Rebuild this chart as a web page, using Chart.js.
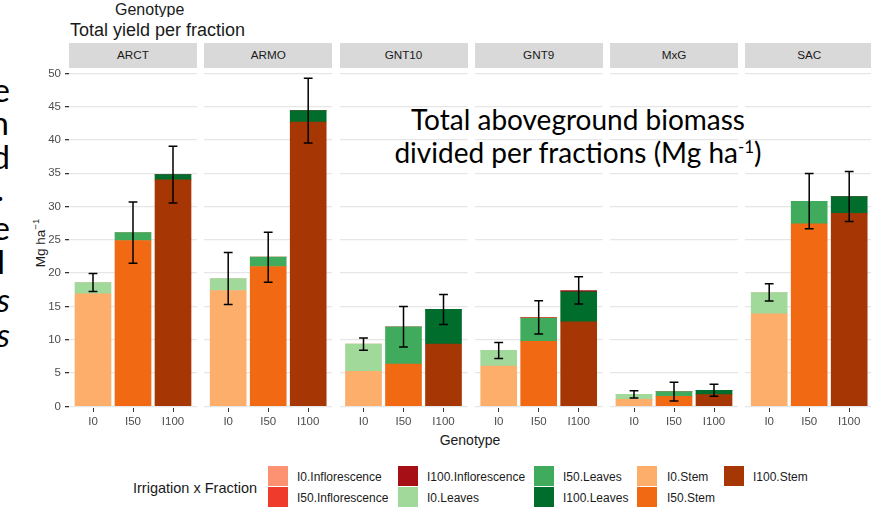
<!DOCTYPE html>
<html>
<head>
<meta charset="utf-8">
<script src="https://cdn.jsdelivr.net/npm/chart.js@4.4.1/dist/chart.umd.min.js"></script>
<style>
  html, body { margin: 0; padding: 0; background: #fff; }
  #wrap { position: relative; width: 871px; height: 508px; overflow: hidden;
          font-family: "Liberation Sans", Arial, sans-serif; color: #1a1a1a; }
  #wrap canvas { position: absolute; left: 0; top: 0; }
  .txt { position: absolute; white-space: nowrap; }
  .strip { position: absolute; top: 43.3px; height: 24.4px; line-height: 24.4px; background: #d9d9d9;
           font-size: 11.7px; color: #1a1a1a; text-align: center; }
  .slide { font-family: Lato, "Open Sans", sans-serif; color: #000; }
  .key { position: absolute; width: 20px; height: 20px; }
  .klab { position: absolute; font-size: 12px; line-height: 14px; color: #1a1a1a; white-space: nowrap; }
</style>
</head>
<body>
<div id="wrap">
  <!-- clipped axis title left over at the very top -->
  <div class="txt" style="left:0;top:0;width:300px;height:17px;overflow:hidden;">
    <div class="txt" style="left:115px;top:2px;font-size:16px;line-height:16px;">Genotype</div>
  </div>
  <div class="txt" style="left:70px;top:21px;font-size:18px;line-height:18px;">Total yield per fraction</div>

  <div class="txt" style="left:39px;top:243px;font-size:13.5px;transform:translate(-50%,-50%) rotate(-90deg);">Mg ha<sup style="font-size:9.5px;">&minus;1</sup></div>
  <div class="txt" style="left:470px;top:440px;font-size:14px;transform:translate(-50%,-50%);">Genotype</div>
  <div class="txt" style="left:133px;top:488px;font-size:14.5px;transform:translateY(-50%);">Irrigation x Fraction</div>

  <div class="txt slide" style="left:578px;top:103px;font-size:28px;line-height:33.6px;transform:translateX(-50%);">Total aboveground biomass</div>
  <div class="txt slide" style="left:578px;top:136px;font-size:28px;line-height:33.6px;transform:translateX(-50%);">divided per fractions (Mg ha<sup style="font-size:17px;line-height:0;">-1</sup>)</div>
</div>

<script>
// ---- data (Mg ha-1) ----
const genotypes  = ['ARCT', 'ARMO', 'GNT10', 'GNT9', 'MxG', 'SAC'];
const irrigation = ['I0', 'I50', 'I100'];

const stem   = [[16.9, 24.9, 34.0], [17.4, 21.0, 42.7], [5.25, 6.35, 9.35],
                [6.05, 9.75, 12.7], [1.05, 1.5, 1.75], [13.9, 27.4, 29.0]];
const leaves = [[1.7, 1.2, 0.8], [1.8, 1.4, 1.7], [4.1, 5.6, 5.2],
                [2.35, 3.5, 4.5], [0.75, 0.7, 0.65], [3.2, 3.4, 2.5]];
const inflor = [[0, 0, 0], [0, 0, 0], [0, 0, 0],
                [0, 0.12, 0.2], [0, 0, 0], [0, 0, 0]];
// half length of the error bars, centred on the bar total
const errHalf = [[1.35, 4.6, 4.25], [3.9, 3.75, 4.85], [0.92, 3.05, 2.25],
                 [1.2, 2.5, 2.05], [0.55, 1.4, 0.9], [1.3, 4.15, 3.75]];

const yTicks = [0, 5, 10, 15, 20, 25, 30, 35, 40, 45, 50];

// colours, one per irrigation level
const stemColors   = ['#FDAE6B', '#F16913', '#A63603'];
const leavesColors = ['#A1D99B', '#41AB5D', '#006D2C'];
const inflorColors = ['#FC9272', '#EF3B2C', '#A50F15'];

const legendLabels = ['I0.Inflorescence', 'I50.Inflorescence', 'I100.Inflorescence', 'I0.Leaves',
                      'I50.Leaves', 'I100.Leaves', 'I0.Stem', 'I50.Stem', 'I100.Stem'];
const legendColors = [inflorColors[0], inflorColors[1], inflorColors[2], leavesColors[0],
                      leavesColors[1], leavesColors[2], stemColors[0], stemColors[1], stemColors[2]];

// cut-off slide text on the left edge
const sideLetters = ['e', 'n', 'd', '.', 'e', 'l', 's', 's'];

// ---- layout ----
const wrap = document.getElementById('wrap');
const W = 880, H = 508;
const panelLeft = [69, 204.2, 339.5, 474.7, 610, 745.2];
const panelW = 128;
const plotTop = 67.7, plotBottom = 408;
const xAxisH = 26;

// facet strips
genotypes.forEach((g, i) => {
  const s = document.createElement('div');
  s.className = 'strip';
  s.style.left = panelLeft[i] + 'px';
  s.style.width = panelW + 'px';
  s.textContent = g;
  wrap.appendChild(s);
});

// side letters
const sideBase = [101, 134, 168, 200, 239, 273, 311, 346];
const sideRight = [10, 9, 10, 4, 10, 5, 10, 10];
sideLetters.forEach((ch, k) => {
  const d = document.createElement('div');
  d.className = 'txt slide';
  d.style.fontSize = '33px';
  d.style.lineHeight = '38px';
  d.style.right = (871 - sideRight[k]) + 'px';
  d.style.top = (sideBase[k] - 31.5) + 'px';
  if (k >= 6) d.style.fontStyle = 'italic';
  d.textContent = ch;
  wrap.appendChild(d);
});

// legend (2 rows, column-major)
const keyX = [268, 398, 534, 637, 724];
const labX = [297, 427, 563, 667, 753];
const keyY = [465.5, 486.5];
legendLabels.forEach((lab, k) => {
  const c = Math.floor(k / 2), r = k % 2;
  const key = document.createElement('div');
  key.className = 'key';
  key.style.left = keyX[c] + 'px';
  key.style.top = keyY[r] + 'px';
  key.style.background = legendColors[k];
  wrap.appendChild(key);
  const t = document.createElement('div');
  t.className = 'klab';
  t.style.left = labX[c] + 'px';
  t.style.top = (keyY[r] + 4) + 'px';
  t.textContent = lab;
  wrap.appendChild(t);
});

// error bars drawn with the chart scales
function errorBars(i) {
  return {
    id: 'errorBars',
    afterDatasetsDraw(chart) {
      const { ctx, scales: { x, y } } = chart;
      ctx.save();
      ctx.strokeStyle = '#000';
      ctx.lineWidth = 1.5;
      irrigation.forEach((_, j) => {
        const total = stem[i][j] + leaves[i][j] + inflor[i][j];
        const lo = y.getPixelForValue(total - errHalf[i][j]);
        const hi = y.getPixelForValue(total + errHalf[i][j]);
        const cx = x.getPixelForValue(j);
        const l = x.getPixelForValue(j - 0.11), r = x.getPixelForValue(j + 0.11);
        ctx.beginPath();
        ctx.moveTo(cx, lo); ctx.lineTo(cx, hi);
        ctx.moveTo(l, lo); ctx.lineTo(r, lo);
        ctx.moveTo(l, hi); ctx.lineTo(r, hi);
        ctx.stroke();
      });
      ctx.restore();
    }
  };
}

const toPoints = arr => arr.map((v, j) => ({ x: j, y: v }));

genotypes.forEach((g, i) => {
  const cv = document.createElement('canvas');
  cv.width = W; cv.height = H;
  wrap.appendChild(cv);
  const first = i === 0;

  new Chart(cv, {
    type: 'bar',
    data: {
      datasets: [
        { label: 'Stem', data: toPoints(stem[i]), backgroundColor: stemColors, barThickness: 36 },
        { label: 'Leaves', data: toPoints(leaves[i]), backgroundColor: leavesColors, barThickness: 36 },
        { label: 'Inflorescence', data: toPoints(inflor[i]), backgroundColor: inflorColors, barThickness: 36 }
      ]
    },
    options: {
      responsive: false,
      animation: false,
      devicePixelRatio: 1,
      layout: {
        padding: {
          left: first ? 0 : panelLeft[i],
          right: W - panelLeft[i] - panelW,
          top: plotTop,
          bottom: H - plotBottom - xAxisH
        }
      },
      plugins: { legend: { display: false }, tooltip: { enabled: false } },
      scales: {
        x: {
          type: 'linear', stacked: true, min: -0.6, max: 2.6, offset: false,
          afterBuildTicks: s => { s.ticks = irrigation.map((_, j) => ({ value: j })); },
          afterFit: s => { s.height = xAxisH; },
          ticks: {
            callback: v => irrigation[v], color: '#4d4d4d',
            font: { family: 'Liberation Sans', size: 11.5 }, padding: 3, maxRotation: 0, autoSkip: false
          },
          grid: { offset: false, drawOnChartArea: false, drawTicks: true, tickLength: 4, tickColor: '#333', lineWidth: 1 },
          border: { display: false }
        },
        y: {
          type: 'linear', stacked: true, min: -0.25, max: 50.85,
          afterBuildTicks: s => { s.ticks = yTicks.map(v => ({ value: v })); },
          afterFit: s => { s.width = first ? panelLeft[0] : 0; },
          ticks: {
            display: first, color: '#4d4d4d',
            font: { family: 'Liberation Sans', size: 11.5 }, padding: 4
          },
          grid: { color: '#e6e6e6', lineWidth: 1.3, drawTicks: first, tickLength: 4, tickColor: '#333' },
          border: { display: false }
        }
      }
    },
    plugins: [errorBars(i)]
  });
});
</script>
</body>
</html>
